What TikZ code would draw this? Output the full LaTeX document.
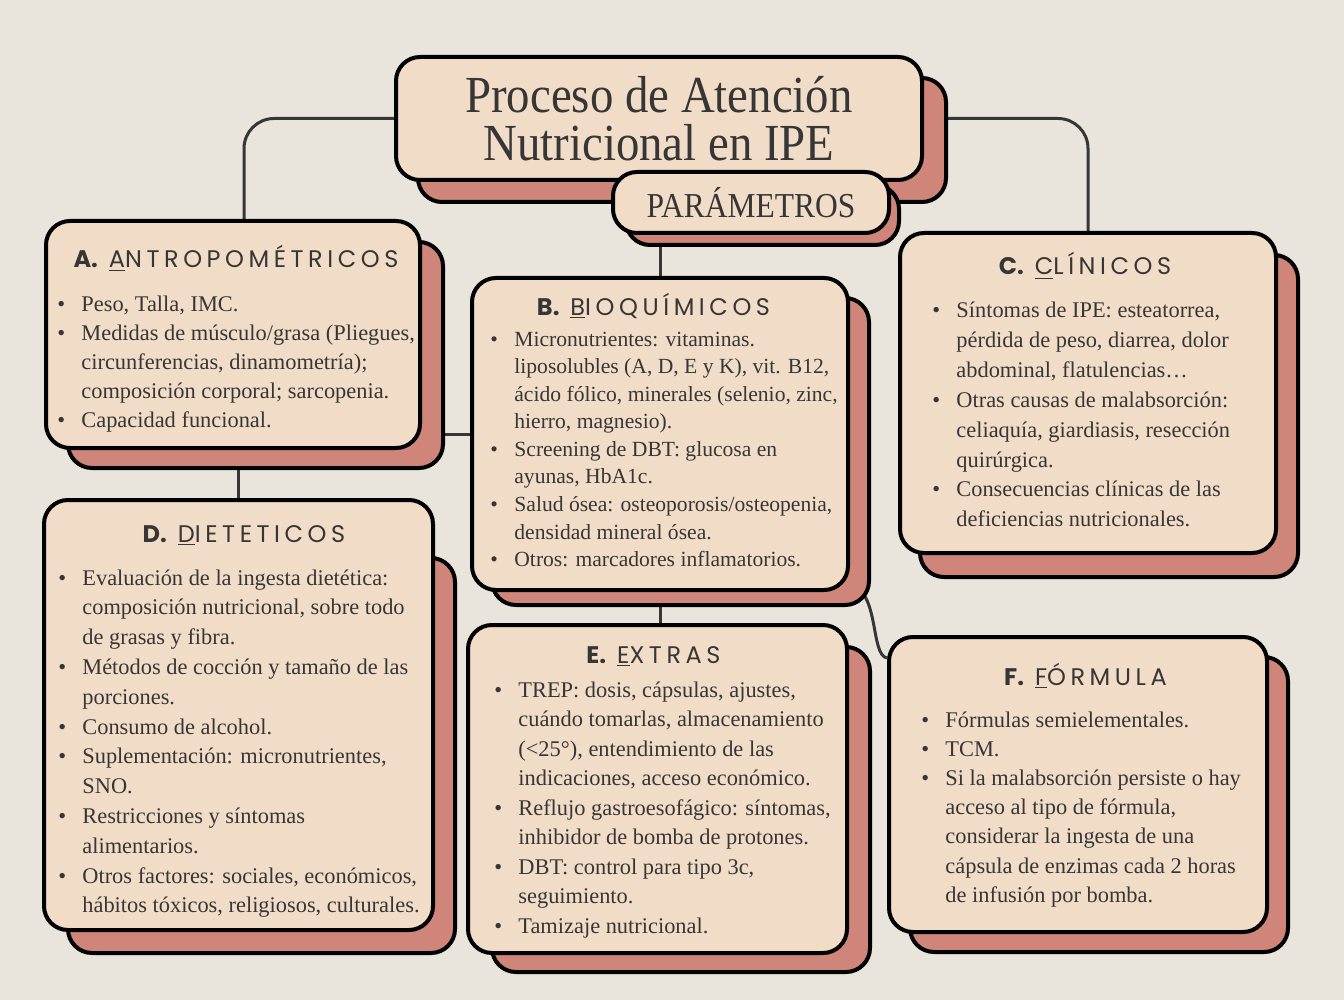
\documentclass[tikz,border=0pt]{standalone}
\usepackage{fontspec}
\setmainfont{Liberation Serif}
\newfontfamily\headfont[LetterSpace=19]{Poppins}
\newfontfamily\headmark{Poppins}
\newfontfamily\titlefont[FakeStretch=0.9]{Liberation Serif}
\usetikzlibrary{positioning}
\pgfdeclarelayer{links}
\pgfdeclarelayer{shades}
\pgfdeclarelayer{front}
\pgfsetlayers{links,shades,main,front}
\definecolor{bgcol}{HTML}{E9E5DC}
\definecolor{cardcol}{HTML}{F1DCC8}
\definecolor{shadecol}{HTML}{CF857A}
\definecolor{inkcol}{HTML}{363636}
\newcommand{\bul}{\makebox[12pt][l]{\textbullet}}
\newcommand{\cardtitle}[3]{{\headmark\bfseries #1.}\ \underline{#2}#3}

\begin{document}
\begin{tikzpicture}[
    x=0.5pt, y=-0.5pt,
    card/.style={rectangle, draw=black, line width=2pt, rounded corners=12pt, fill=cardcol, inner sep=0pt, text=inkcol},
    backing/.style={draw=black, line width=2pt, rounded corners=12pt, fill=shadecol},
    link/.style={draw=inkcol, line width=1.5pt, rounded corners=15pt},
    head/.style={anchor=base, inner sep=0pt, text=inkcol, font=\headfont\fontsize{12}{14}\selectfont},
    lst/.style={anchor=base west, inner sep=0pt, text=inkcol, font=\fontsize{11.2}{#1}\selectfont}
]
\useasboundingbox (0,0) rectangle (1344,1000);

\begin{pgfonlayer}{shades}
\draw[backing] (418,78) rectangle (946,202);
\draw[backing] (68,242) rectangle (443,468);
\draw[backing] (492,298) rectangle (869,605);
\draw[backing] (920,255) rectangle (1298,577);
\draw[backing] (68,558) rectangle (455,953);
\draw[backing] (492,647) rectangle (870,972);
\draw[backing] (910,657) rectangle (1288,952);
\end{pgfonlayer}

\node[card, minimum width=263pt, minimum height=61.5pt, align=center, font=\titlefont\fontsize{26}{24}\selectfont] (T) at (659,118.5) {Proceso de Atención\\Nutricional en IPE};
\begin{pgfonlayer}{front}
\draw[backing] (626,185) rectangle (899,245);
\node[card, minimum width=138pt, minimum height=30.5pt, font=\titlefont\fontsize{17.5}{20}\selectfont] (P) at (751,202.5) {PARÁMETROS};
\end{pgfonlayer}

\node[card, minimum width=187pt, minimum height=113.5pt] (A) at (233,334.5) {};
\node[card, minimum width=188pt, minimum height=156pt] (B) at (660,434) {};
\node[card, minimum width=188pt, minimum height=160pt] (C) at (1088,393) {};
\node[card, minimum width=194.5pt, minimum height=215pt] (D) at (238.5,715) {};
\node[card, minimum width=189.5pt, minimum height=164pt] (E) at (657.5,789) {};
\node[card, minimum width=189pt, minimum height=147.5pt] (F) at (1078,784.5) {};

\begin{pgfonlayer}{links}
\fill[bgcol] (0,0) rectangle (1344,1000);
\draw[link] (T.west) -| ([xshift=5.5pt]A.north);
\draw[link] (T.east) -| (C.north);
\draw[link] (B.north) -- (B.north |- P.south);
\draw[link] (A.east |- 0,434) -- (B.west |- 0,434);
\draw[link] (D.north) -- (D.north |- A.south);
\draw[link] (B.south) -- (B.south |- E.north);
\draw[link] ([yshift=-75pt]B.east) .. controls (880,592) and (870,655) .. ([yshift=-11.5pt]F.north west);
\end{pgfonlayer}

\node[head] (Ahead) at (236,268) {\cardtitle{A}{A}{NTROPOMÉTRICOS}};
\node[head] (Bhead) at (653.5,315) {\cardtitle{B}{B}{IOQUÍMICOS}};
\node[head] (Chead) at (1085,275) {\cardtitle{C}{C}{LÍNICOS}};
\node[head] (Dhead) at (244,542) {\cardtitle{D}{D}{IETETICOS}};
\node[head] (Ehead) at (653.5,663) {\cardtitle{E}{E}{XTRAS}};
\node[head] (Fhead) at (1085.5,685) {\cardtitle{F}{F}{ÓRMULA}};

\node[lst=14.5pt] (Alist) at (57,312) {\begin{tabular}[t]{@{}l@{}l@{}}
\bul & Peso, Talla, IMC.\\
\bul & Medidas de músculo/grasa (Pliegues,\\
 & circunferencias, dinamometría);\\
 & composición corporal; sarcopenia.\\
\bul & Capacidad funcional.
\end{tabular}};
\node[lst=13.8pt, font=\fontsize{10.8}{13.8}\selectfont] (Blist) at (490,346) {\begin{tabular}[t]{@{}l@{}l@{}}
\bul & Micronutrientes: vitaminas.\\
 & liposolubles (A, D, E y K), vit. B12,\\
 & ácido fólico, minerales (selenio, zinc,\\
 & hierro, magnesio).\\
\bul & Screening de DBT: glucosa en\\
 & ayunas, HbA1c.\\
\bul & Salud ósea: osteoporosis/osteopenia,\\
 & densidad mineral ósea.\\
\bul & Otros: marcadores inflamatorios.
\end{tabular}};
\node[lst=14.9pt] (Clist) at (932,318) {\begin{tabular}[t]{@{}l@{}l@{}}
\bul & Síntomas de IPE: esteatorrea,\\
 & pérdida de peso, diarrea, dolor\\
 & abdominal, flatulencias…\\
\bul & Otras causas de malabsorción:\\
 & celiaquía, giardiasis, resección\\
 & quirúrgica.\\
\bul & Consecuencias clínicas de las\\
 & deficiencias nutricionales.
\end{tabular}};
\node[lst=14.9pt] (Dlist) at (58,585) {\begin{tabular}[t]{@{}l@{}l@{}}
\bul & Evaluación de la ingesta dietética:\\
 & composición nutricional, sobre todo\\
 & de grasas y fibra.\\
\bul & Métodos de cocción y tamaño de las\\
 & porciones.\\
\bul & Consumo de alcohol.\\
\bul & Suplementación: micronutrientes,\\
 & SNO.\\
\bul & Restricciones y síntomas\\
 & alimentarios.\\
\bul & Otros factores: sociales, económicos,\\
 & hábitos tóxicos, religiosos, culturales.
\end{tabular}};
\node[lst=14.75pt] (Elist) at (494,697) {\begin{tabular}[t]{@{}l@{}l@{}}
\bul & TREP: dosis, cápsulas, ajustes,\\
 & cuándo tomarlas, almacenamiento\\
 & (<25°), entendimiento de las\\
 & indicaciones, acceso económico.\\
\bul & Reflujo gastroesofágico: síntomas,\\
 & inhibidor de bomba de protones.\\
\bul & DBT: control para tipo 3c,\\
 & seguimiento.\\
\bul & Tamizaje nutricional.
\end{tabular}};
\node[lst=14.6pt] (Flist) at (921,727) {\begin{tabular}[t]{@{}l@{}l@{}}
\bul & Fórmulas semielementales.\\
\bul & TCM.\\
\bul & Si la malabsorción persiste o hay\\
 & acceso al tipo de fórmula,\\
 & considerar la ingesta de una\\
 & cápsula de enzimas cada 2 horas\\
 & de infusión por bomba.
\end{tabular}};
\end{tikzpicture}
\end{document}
